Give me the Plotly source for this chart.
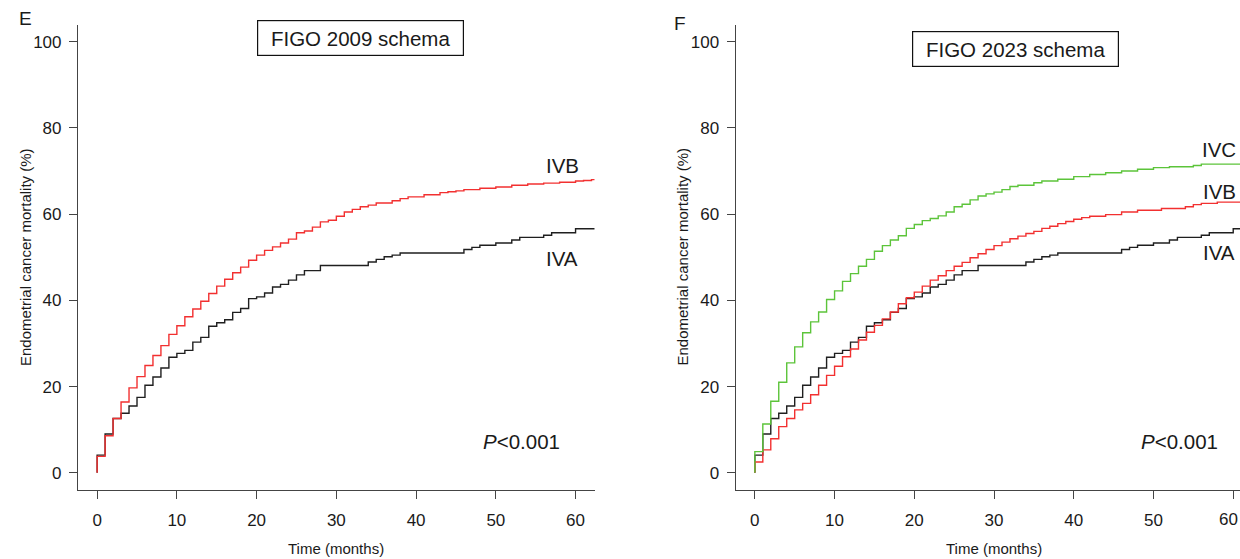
import plotly.graph_objects as go

# ---------------- data (cumulative endometrial cancer mortality, %) ----------------
months = list(range(0, 63))

iva = [4.1, 9.0, 12.6, 13.8, 15.5, 17.5, 20.3, 22.2, 24.3, 26.8,
       27.7, 28.4, 30.3, 31.4, 34.0, 34.8, 35.5, 37.2, 38.1, 40.4,
       40.8, 41.7, 43.1, 43.7, 44.7, 45.9, 46.9, 46.9, 48.1, 48.1,
       48.1, 48.1, 48.1, 48.1, 48.9, 49.5, 50.1, 50.5, 51.0, 51.0,
       51.0, 51.0, 51.0, 51.0, 51.0, 51.0, 51.8, 52.3, 52.8, 52.8,
       53.3, 53.3, 54.0, 54.6, 54.6, 54.6, 55.1, 55.7, 55.7, 55.7,
       56.6, 56.6, 56.6]

ivb_2009 = [3.8, 8.6, 12.6, 16.4, 19.7, 22.3, 24.9, 27.2, 29.5, 32.1,
            34.1, 36.2, 38.0, 39.8, 41.6, 43.3, 44.9, 46.4, 47.7, 49.3,
            50.5, 51.6, 52.4, 53.3, 54.2, 55.7, 56.1, 57.0, 58.2, 58.6,
            59.5, 60.5, 61.1, 61.7, 62.1, 62.6, 62.6, 63.1, 63.6, 64.0,
            64.0, 64.5, 64.5, 65.0, 65.2, 65.4, 65.7, 65.7, 66.0, 66.0,
            66.3, 66.3, 66.7, 66.7, 67.0, 67.0, 67.2, 67.2, 67.4, 67.4,
            67.7, 67.8, 68.0]

ivb_2023 = [2.5, 5.3, 7.9, 10.7, 12.6, 14.6, 16.1, 18.1, 20.3, 22.6,
            24.7, 26.9, 28.7, 30.8, 32.6, 34.2, 35.7, 37.3, 39.2, 40.6,
            41.9, 43.3, 44.7, 45.7, 46.9, 47.9, 48.8, 49.9, 50.8, 51.8,
            52.7, 53.5, 54.3, 54.9, 55.5, 56.0, 56.7, 57.2, 57.8, 58.3,
            58.8, 59.2, 59.5, 59.5, 59.9, 59.9, 60.5, 60.5, 60.9, 60.9,
            60.9, 61.3, 61.3, 61.3, 61.7, 62.2, 62.5, 62.5, 62.8, 62.8,
            62.8, 62.8, 62.8]

ivc_2023 = [4.9, 11.3, 16.6, 21.0, 25.5, 29.2, 32.5, 35.0, 37.3, 40.2,
            42.2, 44.4, 46.2, 47.9, 49.5, 51.4, 52.7, 54.0, 55.0, 56.7,
            57.6, 58.5, 59.0, 59.6, 60.5, 61.7, 62.3, 63.3, 64.2, 64.7,
            65.1, 65.7, 66.4, 66.7, 66.7, 67.3, 67.7, 67.7, 68.1, 68.1,
            68.7, 68.7, 69.2, 69.2, 69.6, 69.6, 70.0, 70.0, 70.4, 70.4,
            70.8, 70.8, 71.0, 71.0, 71.0, 71.3, 71.6, 71.6, 71.6, 71.6,
            71.6, 71.6, 71.6]

follow_up_end = 62.4
x_ticks = [0, 10, 20, 30, 40, 50, 60]
x_tick_labels = [str(v) for v in x_ticks]
y_ticks = [0, 20, 40, 60, 80, 100]

W, H = 1240, 559
FONT = "Liberation Sans, Arial, Helvetica, sans-serif"
TXT = "#1a1a1a"
AX = "#444444"
C_BLACK = "#1f1f1f"
C_RED = "#f23030"
C_GREEN = "#5cc43a"


def px(x, y):
    return x / W, 1 - y / H


def km(values):
    xs = [0] + months + [follow_up_end]
    ys = [0] + values + [values[-1]]
    return xs, ys


fig = go.Figure()

panels = [
    ("x", "y", [("IVA", iva, C_BLACK), ("IVB", ivb_2009, C_RED)]),
    ("x2", "y2", [("IVA", iva, C_BLACK), ("IVB", ivb_2023, C_RED), ("IVC", ivc_2023, C_GREEN)]),
]
for xa, ya, series in panels:
    for name, vals, col in series:
        xs, ys = km(vals)
        fig.add_trace(go.Scatter(x=xs, y=ys, mode="lines", name=name,
                                 line=dict(color=col, width=1.4, shape="hv"),
                                 xaxis=xa, yaxis=ya, showlegend=False,
                                 hoverinfo="skip"))

ydom = [(H - 490) / H, (H - 24.5) / H]
common_ax = dict(showgrid=False, zeroline=False, showline=True, linecolor=AX,
                 linewidth=1.2, ticks="outside", ticklen=8, tickwidth=1.2,
                 tickcolor=AX, tickfont=dict(family=FONT, size=17, color=TXT))

# the right panel is cropped at the page edge: its last tick label is drawn
# right-aligned to the edge instead of overflowing the page
right_labels = x_tick_labels[:-1] + [""]

fig.update_layout(
    width=W, height=H, autosize=False,
    margin=dict(l=0, r=0, t=0, b=0),
    paper_bgcolor="white", plot_bgcolor="white",
    xaxis=dict(domain=[78 / W, 594.7 / W], range=[-2.4, 62.4], tickvals=x_ticks,
               ticktext=x_tick_labels, anchor="y", ticklabelstandoff=6, **common_ax),
    yaxis=dict(domain=ydom, range=[-4, 104], tickvals=y_ticks, anchor="x",
               ticklabelstandoff=4, **common_ax),
    xaxis2=dict(domain=[735.7 / W, 1.0], range=[-2.4, 60.85], tickvals=x_ticks,
                ticktext=right_labels, anchor="y2", ticklabelstandoff=6, **common_ax),
    yaxis2=dict(domain=ydom, range=[-4, 104], tickvals=y_ticks, anchor="x2",
                ticklabelstandoff=4, **common_ax),
)

ann = []


def text(x, y, s, size, **kw):
    xp, yp = px(x, y)
    d = dict(x=xp, y=yp, xref="paper", yref="paper", text=s, showarrow=False,
             xanchor="center", yanchor="middle",
             font=dict(family=FONT, size=size, color=TXT))
    d.update(kw)
    ann.append(d)


# last tick label of the cropped right panel
ann.append(dict(x=1.0, y=1 - 519.5 / H, xref="paper", yref="paper",
                text=x_tick_labels[-1], showarrow=False, xanchor="right",
                yanchor="middle", font=dict(family=FONT, size=17, color=TXT)))

# panel letters
text(25.5, 18.5, "E", 19)
text(679.5, 23, "F", 19)

# schema boxes
text(360.5, 38, "FIGO 2009 schema", 20.5, bordercolor="#111", borderwidth=1.2,
     borderpad=0, width=205, height=34, bgcolor="white")
text(1015.8, 49, "FIGO 2023 schema", 20.5, bordercolor="#111", borderwidth=1.2,
     borderpad=0, width=205, height=34, bgcolor="white")

# curve labels
text(562, 166, "IVB", 20.5)
text(562, 258.5, "IVA", 20.5)
text(1219, 149.5, "IVC", 20.5)
text(1219, 191, "IVB", 20.5)
text(1219, 252.5, "IVA", 20.5)

# p-values
text(521, 441, "<i>P</i><0.001", 20.5)
text(1179, 441, "<i>P</i><0.001", 20.5)

# axis titles
text(336, 548, "Time (months)", 15)
text(994, 548, "Time (months)", 15)
text(25, 257, "Endometrial cancer mortality (%)", 15, textangle=-90)
text(681.5, 257, "Endometrial cancer mortality (%)", 15, textangle=-90)

fig.update_layout(annotations=ann)
fig.write_html("out.html")
